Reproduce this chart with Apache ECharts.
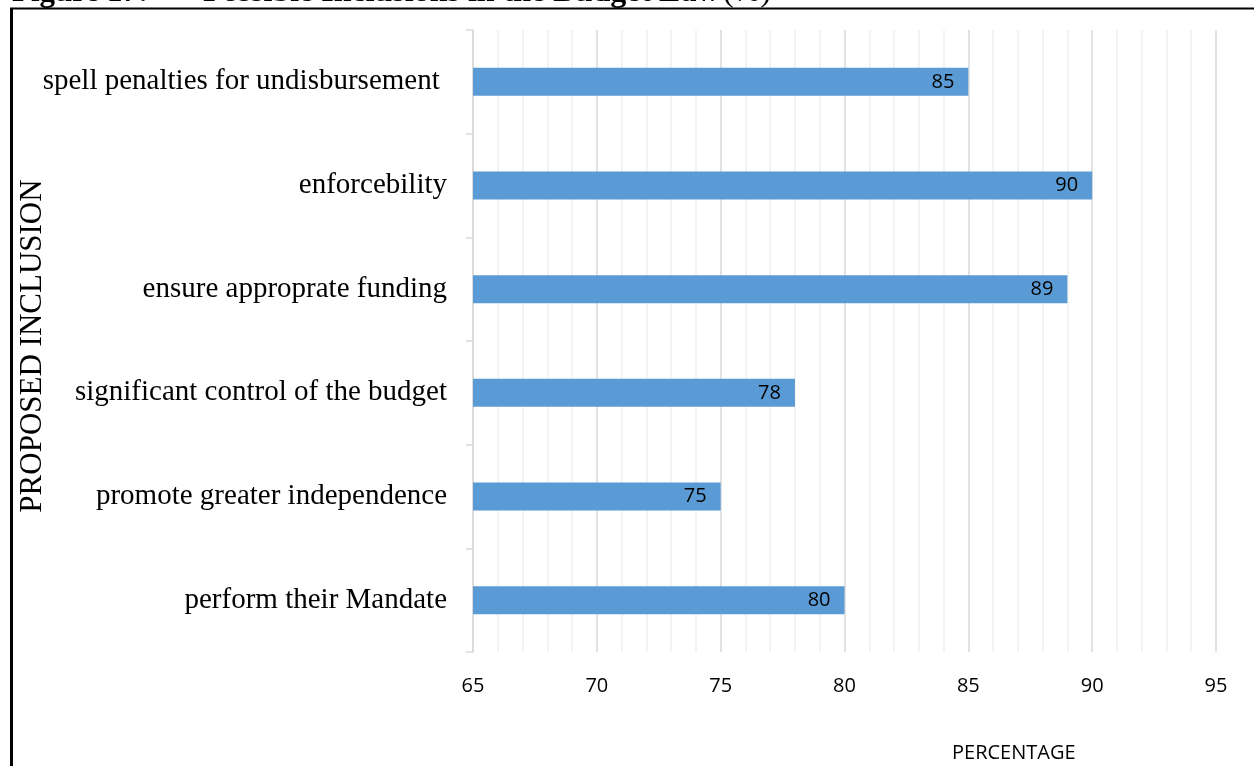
<!DOCTYPE html>
<html>
<head>
<meta charset="utf-8">
<script src="https://cdn.jsdelivr.net/npm/echarts@6/dist/echarts.min.js"></script>
<style>
  html, body { margin: 0; padding: 0; background: #fff; }
  #chart { width: 1254px; height: 766px; }
</style>
</head>
<body>
<div id="chart"></div>
<script>
// Proposed inclusions in the budget law, share of respondents (%)
const categories = [
  'spell penalties for undisbursement ',
  'enforcebility',
  'ensure approprate funding',
  'significant control of the budget',
  'promote greater independence',
  'perform their Mandate'
];
const percentages = [85, 90, 89, 78, 75, 80];
const axisMin = 65;
const axisMax = 95;
const axisStep = 5;

const chart = echarts.init(document.getElementById('chart'), null, { renderer: 'canvas' });

const serif = '"Liberation Serif", "Times New Roman", serif';
const sans = '"Open Sans", "Noto Sans", sans-serif';

chart.setOption({
  animation: false,
  backgroundColor: '#ffffff',
  grid: { left: 473, right: 38, top: 30, bottom: 114, containLabel: false, outerBoundsMode: 'none' },
  xAxis: {
    type: 'value',
    min: axisMin,
    max: axisMax,
    interval: axisStep,
    axisLine: { show: false },
    axisTick: { show: false },
    axisLabel: { color: '#000', fontFamily: sans, fontSize: 20, margin: 24 },
    splitLine: { show: true, lineStyle: { color: '#d9d9d9', width: 1.5 } },
    minorTick: { show: false, splitNumber: 5 },
    minorSplitLine: { show: true, lineStyle: { color: '#f0f0f0', width: 1.5 } }
  },
  yAxis: {
    type: 'category',
    data: categories,
    inverse: true,
    axisLine: { show: true, lineStyle: { color: '#d9d9d9', width: 1.5 } },
    axisTick: { show: true, length: 7, lineStyle: { color: '#d9d9d9', width: 1.5 } },
    axisLabel: { color: '#000', fontFamily: serif, fontSize: 29, margin: 26 },
    splitLine: { show: false }
  },
  series: [{
    type: 'bar',
    data: percentages,
    barWidth: 28,
    itemStyle: { color: '#5b9bd5' },
    label: {
      show: true,
      position: 'insideRight',
      distance: 14,
      color: '#000',
      fontFamily: sans,
      fontSize: 20
    }
  }],
  graphic: [
    // frame around the figure
    { type: 'line', shape: { x1: 10, y1: 8.5, x2: 1254, y2: 8.5 }, style: { stroke: '#000', lineWidth: 2 } },
    { type: 'line', shape: { x1: 11.5, y1: 8, x2: 11.5, y2: 766 }, style: { stroke: '#000', lineWidth: 3 } },
    // caption above the frame
    { type: 'text', style: { x: 12, y: -7, verticalAlign: 'middle', text: 'Figure 17:', font: 'bold 31px ' + serif, fill: '#000' } },
    { type: 'text', style: {
      x: 203, y: -7, verticalAlign: 'middle',
      text: '{b|Possible Inclusions in the Budget Law} {n|(%)}',
      rich: {
        b: { font: 'bold 32px ' + serif, fill: '#000' },
        n: { font: '32px ' + serif, fill: '#000' }
      }
    } },
    // y axis title, reading bottom to top
    { type: 'text', x: 33, y: 346, rotation: Math.PI / 2, style: {
      text: 'PROPOSED INCLUSION', font: '31px ' + serif, fill: '#000',
      align: 'center', verticalAlign: 'middle'
    } },
    // x axis title
    { type: 'text', left: 952, top: 743, style: { text: 'PERCENTAGE', font: '20px ' + sans, fill: '#000' } }
  ]
});
</script>
</body>
</html>
